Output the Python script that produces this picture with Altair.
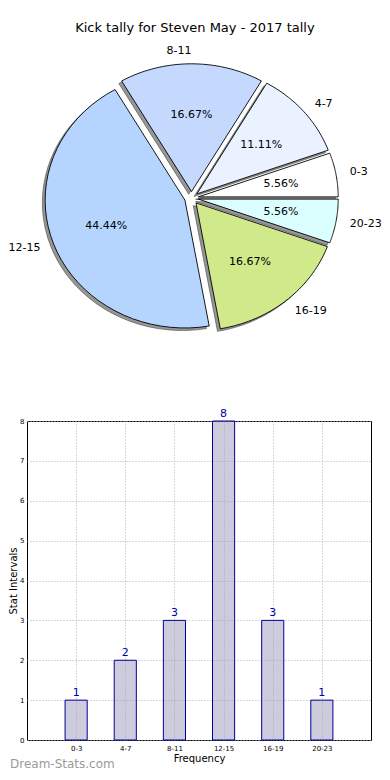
import altair as alt
import pandas as pd

# ---------------- data ----------------
categories = ["0-3", "4-7", "8-11", "12-15", "16-19", "20-23"]
counts = [1, 2, 3, 8, 3, 1]
slice_colors = ["#ffffff", "#eaf1ff", "#c5d9ff", "#b5d5ff", "#cfe98b", "#dbffff"]
y_ticks = [0, 1, 2, 3, 4, 5, 6, 7, 8]
chart_title = "Kick tally for Steven May - 2017 tally"
x_title = "Frequency"
y_title = "Stat Intervals"
watermark = "Dream-Stats.com"

df = pd.DataFrame({"cat": categories, "count": counts, "idx": list(range(len(categories)))})

FONT = "DejaVu Sans"
EXPLODE = 0.05
NPTS = 40
SHADOW = 0.02

# layout (pixels)
W = 344          # common plot width
HP = 310         # pie plot height
HB = 319         # bar plot height
X0 = 25          # page x of plot left
CX, CY = 189.5, 198.0   # pie centre on page
RX, RY = 139.8, 127.8   # pie radii in px
PIE_TOP = 45
xdom = [-(CX - X0) / RX, (X0 + W - CX) / RX]
ydom = [-(PIE_TOP + HP - CY) / RY, (CY - PIE_TOP) / RY]

# ---------------- pie ----------------
base = (
    alt.Chart(df)
    .transform_joinaggregate(total="sum(count)")
    .transform_window(cum="sum(count)", sort=[alt.SortField("idx")], frame=[None, 0])
    .transform_calculate(t1="2*PI*(datum.cum - datum.count)/datum.total")
    .transform_calculate(t2="2*PI*datum.cum/datum.total")
    .transform_calculate(mid="(datum.t1 + datum.t2)/2")
    .transform_calculate(ox=f"{EXPLODE}*cos(datum.mid)")
    .transform_calculate(oy=f"{EXPLODE}*sin(datum.mid)")
    .transform_calculate(pct="format(100*datum.count/datum.total, '.2f') + '%'")
)

poly = (
    base.transform_calculate(k="sequence(0, 43)")
    .transform_flatten(["k"])
    .transform_calculate(edge="datum.k > 0 && datum.k < 42 ? 1 : 0")
    .transform_calculate(ang=f"datum.t1 + (datum.t2 - datum.t1)*(datum.k - 1)/{NPTS}")
    .transform_calculate(px="datum.ox + datum.edge*cos(datum.ang)")
    .transform_calculate(py="datum.oy + datum.edge*sin(datum.ang)")
    .transform_calculate(sx=f"datum.px - {SHADOW}")
    .transform_calculate(sy=f"datum.py - {SHADOW}")
)

xs = alt.Scale(domain=xdom, nice=False, zero=False)
ys = alt.Scale(domain=ydom, nice=False, zero=False)

shadow = poly.mark_line(filled=True, fill="#404040", fillOpacity=0.55,
                        stroke="#404040", strokeOpacity=0.55, strokeWidth=1).encode(
    x=alt.X("sx:Q", scale=xs, axis=None),
    y=alt.Y("sy:Q", scale=ys, axis=None),
    detail="cat:N",
    order="k:Q",
)

wedges = poly.mark_line(filled=True, stroke="black", strokeWidth=0.9).encode(
    x=alt.X("px:Q", scale=xs, axis=None),
    y=alt.Y("py:Q", scale=ys, axis=None),
    color=alt.Color("cat:N", scale=alt.Scale(domain=categories, range=slice_colors), legend=None),
    order="k:Q",
)

lab = base.transform_calculate(lx="datum.ox + 1.1*cos(datum.mid)").transform_calculate(
    ly="datum.oy + 1.1*sin(datum.mid)"
)
lab_right = lab.transform_filter("cos(datum.mid) > 0.001").mark_text(
    align="left", baseline="middle", fontSize=11, font=FONT, color="black"
).encode(x=alt.X("lx:Q", scale=xs, axis=None), y=alt.Y("ly:Q", scale=ys, axis=None), text="cat:N")
lab_left = lab.transform_filter("cos(datum.mid) <= 0.001").mark_text(
    align="right", baseline="middle", fontSize=11, font=FONT, color="black"
).encode(x=alt.X("lx:Q", scale=xs, axis=None), y=alt.Y("ly:Q", scale=ys, axis=None), text="cat:N")

pcts = base.transform_calculate(qx="datum.ox + 0.6*cos(datum.mid)").transform_calculate(
    qy="datum.oy + 0.6*sin(datum.mid)"
).mark_text(align="center", baseline="middle", fontSize=11, font=FONT, color="black").encode(
    x=alt.X("qx:Q", scale=xs, axis=None), y=alt.Y("qy:Q", scale=ys, axis=None), text="pct:N"
)

pie = alt.layer(shadow, wedges, lab_right, lab_left, pcts).properties(
    width=W, height=HP, view=alt.ViewBackground(stroke=None)
)

# ---------------- bars ----------------
label_expr = "[" + ",".join(f"'{c}'" for c in categories) + "][datum.value]"
xb = alt.Scale(domain=[-1, len(categories)], nice=False, zero=False)
yb = alt.Scale(domain=[0, 8], nice=False, zero=False)

xaxis = alt.Axis(
    values=list(range(len(categories))), labelExpr=label_expr, title=x_title,
    grid=True, gridDash=[1, 2], gridColor="#b0b0b0", gridWidth=1,
    ticks=False, domain=False, labelFontSize=7, labelPadding=4, labelColor="black",
    titleFontSize=10, titleFontWeight="normal", titlePadding=2, titleColor="black",
)
yaxis = alt.Axis(
    values=y_ticks, title=y_title, grid=True, gridDash=[1, 2], gridColor="#b0b0b0", gridWidth=1,
    ticks=False, domain=False, labelFontSize=7, labelPadding=3, labelColor="black",
    titleFontSize=10, titleFontWeight="normal", titlePadding=1, titleColor="black",
)

bar_base = alt.Chart(df).transform_calculate(b0="datum.idx - 0.225").transform_calculate(
    b1="datum.idx + 0.225"
)
bars = bar_base.mark_bar(fill="#9999bb", fillOpacity=0.5, stroke="#000099", strokeWidth=1).encode(
    x=alt.X("b0:Q", scale=xb, axis=xaxis),
    x2="b1:Q",
    y=alt.Y("count:Q", scale=yb, axis=yaxis),
    y2=alt.datum(0),
)
vals = alt.Chart(df).mark_text(
    baseline="bottom", dy=-2, fontSize=11, font=FONT, color="#0000aa"
).encode(
    x=alt.X("idx:Q", scale=xb, axis=xaxis),
    y=alt.Y("count:Q", scale=yb, axis=yaxis),
    text="count:Q",
)

wm = alt.Chart(pd.DataFrame({"t": [watermark]})).mark_text(
    align="left", baseline="middle", fontSize=12, font=FONT, color="#9a9a9a"
).encode(x=alt.value(8 - X0), y=alt.value(764 - 421), text="t:N")

barchart = alt.layer(bars, vals, wm).properties(width=W, height=HB)

chart = (
    alt.vconcat(pie, barchart, spacing=66, bounds="flush")
    .properties(
        title=alt.TitleParams(chart_title, fontSize=13, fontWeight="normal", font=FONT,
                              color="black", anchor="middle", offset=10),
        padding={"left": 0, "top": 14, "right": 0, "bottom": 0},
    )
    .configure(font=FONT)
    .configure_view(stroke="black", strokeWidth=1)
)

chart.save("out.html", embed_options={"renderer": "svg", "actions": False})
